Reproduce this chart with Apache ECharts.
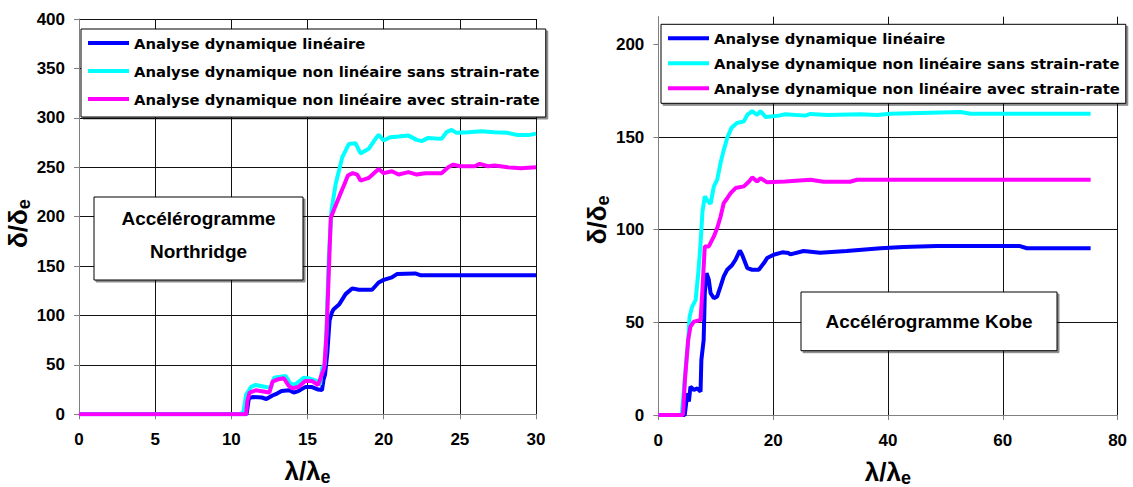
<!DOCTYPE html>
<html><head><meta charset="utf-8">
<script src="https://cdn.jsdelivr.net/npm/echarts@6/dist/echarts.min.js"></script>
<style>html,body{margin:0;padding:0;background:#fff}#c{width:1133px;height:487px}</style>
</head><body><div id="c"></div>
<script>
// ---- data ----
const seriesNames = [
  'Analyse dynamique linéaire',
  'Analyse dynamique non linéaire sans strain-rate',
  'Analyse dynamique non linéaire avec strain-rate'
];
const seriesColors = ['#0000ff', '#00ffff', '#ff00ff'];

const xTicksNorth = { min: 0, max: 30, interval: 5 };
const yTicksNorth = { min: 0, max: 400, interval: 50 };
const xTicksKobe = { min: 0, max: 80, interval: 20 };
const yTicksKobe = { min: 0, max: 215, interval: 50, labels: [0, 50, 100, 150, 200] };

// Northridge
const northLin = [[0,0],[11.0,0],[11.15,16],[11.4,17.5],[12.0,17],[12.3,15.5],[12.7,19],[13.0,21],[13.3,23.5],[13.8,24.3],[14.1,22],[14.4,23.5],[14.85,27.5],[15.3,27.5],[15.7,25],[15.95,24.5],[16.05,35],[16.15,40],[16.3,62],[16.45,95],[16.6,103],[16.7,106],[17.07,111],[17.5,121.6],[17.93,127.4],[18.37,126],[19.24,126],[19.67,133.4],[20.0,136],[20.54,138.5],[20.87,141.9],[22.07,142.5],[22.4,140.8],[30,140.8]];
const northSans = [[0,0],[10.65,0],[10.8,3],[10.97,20],[11.3,27.7],[11.6,29.7],[12.26,27.7],[12.6,27],[12.8,37],[13.56,38.9],[13.88,31],[14.2,30],[14.74,37],[15.06,36.5],[15.6,33.8],[15.82,30],[15.97,47],[16.14,50.7],[16.25,88],[16.4,160],[16.57,206],[16.85,233],[17.28,260],[17.72,273.6],[18.15,274.3],[18.48,264],[19.02,268.6],[19.46,278.7],[19.67,282.8],[20.0,277],[20.43,280.4],[20.98,281],[21.63,282],[22.17,277.7],[22.5,276.4],[22.93,279.7],[23.8,278.7],[24.13,285.5],[24.46,287.8],[24.78,284.8],[25.54,285.5],[26.4,286.5],[27.28,285.5],[28.15,284.8],[28.8,282.5],[29.5,282.5],[30,284]];
const northAvec = [[0,0],[10.97,0],[11.05,13.5],[11.2,22],[11.6,24.3],[12.5,22],[12.7,33],[13.1,35.5],[13.45,36.5],[13.77,28.7],[14.0,26.4],[14.4,27.7],[14.85,33.8],[15.28,33.8],[15.7,29.7],[15.93,40],[16.1,47],[16.25,81],[16.36,128],[16.53,199],[16.8,209.5],[17.1,221],[17.43,233],[17.65,241.6],[17.97,244],[18.26,242.6],[18.48,236.5],[19.02,239.2],[19.67,248.3],[20.0,244],[20.54,246],[20.98,242.6],[21.63,245],[22.17,242.6],[22.72,244],[23.8,244],[24.24,250],[24.57,252.7],[25.0,251],[25.98,251],[26.3,253.4],[26.85,251],[27.28,251.7],[28.15,250],[29,249],[30,250]];

// Kobe
const kobeLin = [[0,0],[4.6,0],[4.8,5],[5.04,11.7],[5.33,7.2],[5.6,15.3],[6.2,13.5],[6.78,14.4],[7.36,12.6],[7.5,29.7],[7.9,40.5],[8.1,65.8],[8.4,76.5],[8.8,73],[9.1,65.8],[9.68,63],[10.26,64],[10.84,69.4],[11.4,74.8],[12.0,78.4],[12.87,81],[13.45,83.8],[14.2,88.8],[14.6,86.5],[15.5,79.3],[16.35,78.4],[17.5,78.4],[18.4,82],[18.95,84.7],[20.1,86.5],[21.6,87.8],[22.7,87.4],[23,86.7],[25.3,88.5],[28.2,87.6],[32.8,88.5],[38.7,90],[42.7,90.7],[48.5,91.2],[63,91.2],[64.2,90],[75.3,90]];
const kobeSans = [[0,0],[4.06,0],[4.3,8],[4.64,20.7],[5.2,40],[5.45,53],[5.9,58.5],[6.5,62],[6.96,76.5],[7.36,92.7],[7.7,110],[8.1,118],[8.5,116],[9.1,114],[9.68,123.4],[10.26,127],[10.84,136],[11.4,143],[12.0,149.5],[12.75,155],[13.7,157.6],[14.9,158.5],[15.5,162],[16.35,164],[17.2,162],[17.8,164],[18.7,160.8],[21.0,161.6],[22.1,162.3],[25.6,161.6],[26.5,162.5],[29.4,162],[35.2,162.3],[38.1,162],[40.4,162.6],[52.6,163.6],[54.4,162.6],[75.3,162.6]];
const kobeAvec = [[0,0],[4.3,0],[4.64,19],[5.2,40.5],[5.6,47.7],[6.2,50.4],[7.36,51.3],[7.65,65.8],[8.1,91],[8.8,91],[9.68,96.4],[10.26,100.9],[10.84,107],[11.4,114.4],[12.0,117],[12.6,119.8],[13.45,122.5],[14.9,123.4],[15.8,126],[16.35,128.3],[17.2,126],[17.8,127.9],[18.95,125.6],[22.1,126],[26.5,127],[28.8,125.9],[33.4,125.9],[34.6,127],[75.3,127]];

// ---- chart ----
const FONT = '"Liberation Sans", Arial, sans-serif';
const labelStyle = { color: '#000', fontFamily: FONT, fontWeight: 'bold', fontSize: 17 };
const axisGray = '#808080';
const gridColor = '#111111';

function nameRich() {
  return {
    rich: {
      a: { fontFamily: FONT, fontWeight: 'bold', fontSize: 26, color: '#000', lineHeight: 30, verticalAlign: 'middle' },
      b: { fontFamily: FONT, fontWeight: 'bold', fontSize: 18, color: '#000', lineHeight: 28, verticalAlign: 'bottom' }
    }
  };
}

function makeX(gi, t) {
  return {
    type: 'value', gridIndex: gi, min: t.min, max: t.max, interval: t.interval,
    axisLine: { show: true, onZero: false, lineStyle: { color: axisGray, width: 1 } },
    axisTick: { show: true, inside: false, length: 5, lineStyle: { color: axisGray } },
    axisLabel: Object.assign({ margin: 17 }, labelStyle),
    splitLine: { show: true, lineStyle: { color: gridColor, width: 1, type: 'solid', opacity: 1 } },
    name: '{a|λ/λ}{b|e}', nameLocation: 'middle', nameGap: 42,
    nameTextStyle: nameRich()
  };
}
function makeY(gi, t, pad) {
  const ax = {
    type: 'value', gridIndex: gi, min: t.min, max: t.max, interval: t.interval,
    axisLine: { show: true, onZero: false, lineStyle: { color: axisGray, width: 1 } },
    axisTick: { show: true, inside: false, length: 5, lineStyle: { color: axisGray } },
    axisLabel: Object.assign({ margin: 14 }, labelStyle),
    splitLine: { show: true, lineStyle: { color: gridColor, width: 1, type: 'solid', opacity: 1 } },
    name: '{a|δ/δ}{b|e}', nameLocation: 'middle', nameGap: 42, nameRotate: 90,
    nameTextStyle: Object.assign({ padding: pad }, nameRich())
  };
  if (t.labels) {
    ax.axisLabel.customValues = t.labels;
    ax.axisTick.customValues = t.labels;
    ax.splitLine.showMaxLine = false;
  }
  return ax;
}

function makeSeries(gi, datas) {
  return datas.map((d, i) => ({
    name: seriesNames[i], type: 'line', xAxisIndex: gi, yAxisIndex: gi,
    data: d, showSymbol: false, symbol: 'none', smooth: false,
    lineStyle: { color: seriesColors[i], width: 4 },
    itemStyle: { color: seriesColors[i] },
    z: 10 + i
  }));
}

function makeLegend(left, top, gap, padding) {
  return {
    orient: 'vertical', left: left, top: top, itemGap: gap, padding: padding,
    itemWidth: 41, itemHeight: 4, icon: 'rect',
    backgroundColor: '#fff', borderColor: '#000', borderWidth: 1,
    shadowColor: 'rgba(0,0,0,0.45)', shadowOffsetX: 2, shadowOffsetY: 2, shadowBlur: 0,
    selectedMode: false, z: 20,
    textStyle: { color: '#000', fontFamily: '"DejaVu Sans", sans-serif', fontWeight: 'bold', fontSize: 14.8, lineHeight: 16 },
    data: seriesNames
  };
}

const boxStyle = { fill: '#fff', stroke: '#000', lineWidth: 1, shadowColor: 'rgba(0,0,0,0.45)', shadowOffsetX: 2, shadowOffsetY: 2, shadowBlur: 0 };
const boxFont = { fill: '#000', fontFamily: FONT, fontWeight: 'bold', fontSize: 19, align: 'center', verticalAlign: 'middle' };

const chart = echarts.init(document.getElementById('c'), null, { renderer: 'svg' });
chart.setOption({
  animation: false,
  backgroundColor: '#fff',
  grid: [
    { left: 79, top: 19, width: 457, height: 395.3, outerBoundsMode: 'none' },
    { left: 658.3, top: 16.7, width: 459.3, height: 398.3, outerBoundsMode: 'none' }
  ],
  xAxis: [makeX(0, xTicksNorth), makeX(1, xTicksKobe)],
  yAxis: [makeY(0, yTicksNorth, [0, 14, 0, 0]), makeY(1, yTicksKobe, [0, 8, 0, 0])],
  legend: [
    makeLegend(81, 29, 12, [6, 6, 10, 7]),
    makeLegend(661, 24.3, 9, [6, 6, 7, 7])
  ],
  graphic: [
    { type: 'rect', shape: { x: 94, y: 197, width: 209, height: 83 }, style: boxStyle, z: 30 },
    { type: 'text', x: 198.5, y: 218.5, style: Object.assign({ text: 'Accélérogramme' }, boxFont), z: 31 },
    { type: 'text', x: 198.5, y: 251.7, style: Object.assign({ text: 'Northridge' }, boxFont), z: 31 },
    { type: 'rect', shape: { x: 801, y: 292, width: 256, height: 58.7 }, style: boxStyle, z: 30 },
    { type: 'text', x: 929, y: 321.5, style: Object.assign({ text: 'Accélérogramme Kobe' }, boxFont), z: 31 }
  ],
  series: makeSeries(0, [northLin, northSans, northAvec]).concat(makeSeries(1, [kobeLin, kobeSans, kobeAvec]))
});
</script>
</body></html>
